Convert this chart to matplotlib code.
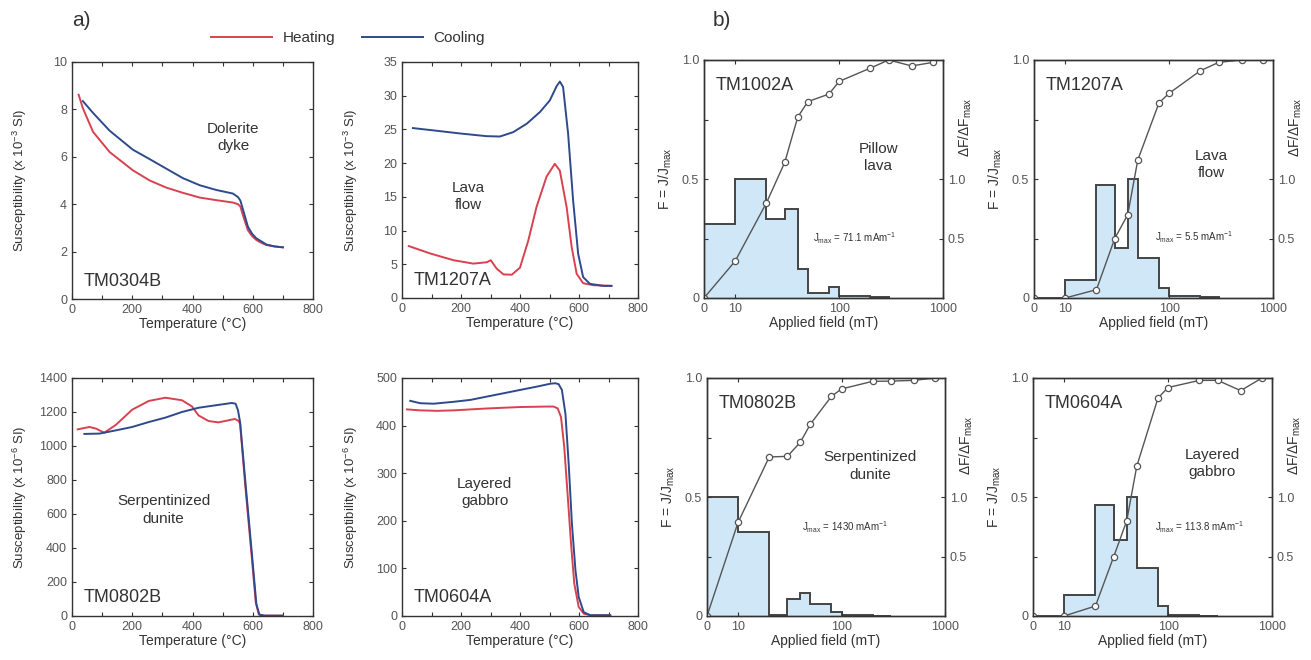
import matplotlib.pyplot as plt
from matplotlib.lines import Line2D

plt.rcParams['font.family'] = ['Liberation Sans', 'DejaVu Sans']
plt.rcParams['mathtext.default'] = 'regular'

# ---- a) thermomagnetic curves (temperature in C, susceptibility) ----
t0304_heat = [22, 36, 70, 125, 202, 258, 313, 368, 424, 479, 534, 551, 559, 567, 576, 584, 598, 612, 630, 645, 670, 700]
k0304_heat = [8.62, 8.05, 7.05, 6.2, 5.43, 5.0, 4.7, 4.48, 4.28, 4.17, 4.07, 4.0, 3.9, 3.55, 3.2, 2.9, 2.65, 2.49, 2.36, 2.28, 2.22, 2.18]
t0304_cool = [36, 70, 125, 202, 258, 313, 368, 424, 479, 534, 551, 559, 567, 576, 584, 598, 612, 630, 645, 672, 700]
k0304_cool = [8.35, 7.85, 7.1, 6.3, 5.9, 5.5, 5.1, 4.8, 4.6, 4.45, 4.3, 4.15, 3.8, 3.4, 3.05, 2.75, 2.56, 2.42, 2.3, 2.22, 2.18]

t1207_heat = [23, 96, 175, 242, 287, 301, 321, 344, 372, 400, 428, 456, 490, 518, 535, 558, 575, 592, 614, 648, 710]
k1207_heat = [7.7, 6.6, 5.6, 5.1, 5.3, 5.6, 4.35, 3.5, 3.45, 4.5, 8.5, 13.5, 18.0, 19.9, 18.9, 13.5, 7.6, 3.6, 2.2, 1.9, 1.8]
t1207_cool = [37, 118, 197, 287, 332, 377, 423, 468, 501, 524, 535, 546, 563, 580, 597, 614, 637, 682, 710]
k1207_cool = [25.2, 24.8, 24.4, 24.0, 23.95, 24.6, 25.85, 27.6, 29.3, 31.4, 32.1, 31.3, 24.4, 14.5, 6.6, 3.1, 2.1, 1.8, 1.8]

t0802_heat = [19, 58, 80, 107, 146, 200, 255, 310, 365, 398, 420, 453, 486, 519, 541, 553, 558, 575, 595, 610, 620, 635, 700]
k0802_heat = [1098, 1112, 1102, 1078, 1125, 1214, 1265, 1284, 1269, 1233, 1180, 1147, 1139, 1151, 1159, 1147, 1130, 770, 380, 80, 10, 2, 2]
t0802_cool = [41, 91, 146, 200, 255, 310, 365, 420, 475, 530, 543, 551, 558, 577, 597, 612, 622, 640, 700]
k0802_cool = [1071, 1073, 1092, 1112, 1141, 1167, 1200, 1225, 1239, 1253, 1249, 1210, 1140, 760, 370, 70, 8, 2, 2]

t0604_heat = [17, 62, 119, 175, 288, 401, 492, 514, 528, 539, 550, 562, 573, 584, 599, 616, 639, 706]
k0604_heat = [434, 432, 431, 432, 436, 439, 440, 440, 436, 418, 355, 250, 152, 68, 19, 5, 1.5, 1.5]
t0604_cool = [28, 62, 107, 175, 232, 288, 345, 401, 458, 503, 520, 531, 542, 554, 565, 576, 588, 599, 616, 639, 706]
k0604_cool = [452, 447, 446, 450, 454, 461, 468, 475, 482, 488, 489, 487, 475, 425, 320, 194, 96, 40, 8, 1.5, 1.5]

# ---- b) IRM acquisition (applied field in mT) ----
field = [0, 10, 20, 30, 40, 50, 80, 100, 200, 300, 500, 800]
bin_edges = [0, 10, 20, 30, 40, 50, 80, 100, 200, 300]

f1002 = [0, 0.155, 0.40, 0.57, 0.76, 0.825, 0.857, 0.91, 0.966, 1.0, 0.975, 0.99]
d1002 = [0.62, 1.0, 0.66, 0.75, 0.24, 0.04, 0.09, 0.015, 0.006]
f1207 = [0, 0, 0.035, 0.25, 0.35, 0.58, 0.82, 0.86, 0.955, 0.99, 1.0, 1.0]
d1207 = [0, 0.15, 0.95, 0.42, 1.0, 0.34, 0.08, 0.02, 0.006]
f0802 = [0, 0.393, 0.668, 0.671, 0.73, 0.806, 0.923, 0.954, 0.986, 0.987, 0.99, 1.0]
d0802 = [1.0, 0.71, 0.01, 0.14, 0.19, 0.10, 0.03, 0.006, 0.0]
f0604 = [0, 0, 0.042, 0.25, 0.40, 0.63, 0.916, 0.96, 0.99, 0.99, 0.947, 1.0]
d0604 = [0, 0.18, 0.93, 0.64, 1.0, 0.40, 0.08, 0.01, 0.0]

HEAT = '#d8424f'
COOL = '#2e4a8c'
TXT = '#333333'
TICK = '#555555'
W, H = 1311, 660

fig = plt.figure(figsize=(W / 100, H / 100), dpi=100)


def box(l, t, r, b):
    return [l / W, 1 - b / H, (r - l) / W, (b - t) / H]


def style(ax):
    for s in ax.spines.values():
        s.set_color('#333333')
        s.set_linewidth(1)
    ax.tick_params(direction='in', colors='#333333', labelcolor=TICK, labelsize=9, length=3)


def thermo_panel(rect, th, kh, tc, kc, ymax, ystep, unit, name, rock, rock_xy):
    ax = fig.add_axes(box(*rect))
    ax.plot(th, kh, color=HEAT, lw=1.4)
    ax.plot(tc, kc, color=COOL, lw=1.4)
    ax.set_xlim(0, 800)
    ax.set_ylim(0, ymax)
    ax.set_xticks(range(0, 801, 100))
    ax.set_xticklabels([str(v) if v % 200 == 0 else '' for v in range(0, 801, 100)])
    ax.set_yticks(range(0, ymax + 1, ystep))
    style(ax)
    ax.tick_params(top=True, right=True)
    ax.set_xlabel('Temperature (\u00b0C)', fontsize=10, color=TXT, labelpad=1)
    ax.set_ylabel('Susceptibility (x 10$^{%s}$ SI)' % unit, fontsize=9.5, color=TXT)
    ax.yaxis.set_label_coords(-0.18, 0.5)
    ax.text(0.05, 0.04, name, transform=ax.transAxes, fontsize=13, color=TXT, ha='left', va='bottom')
    ax.text(rock_xy[0], rock_xy[1], rock, transform=ax.transAxes, fontsize=11, color=TXT,
            ha='center', va='center', linespacing=1.3)
    return ax


def irm_panel(rect, f, d, name, rock, rock_xy, jmax, j_xy):
    ax = fig.add_axes(box(*rect))
    ax2 = ax.twinx()
    edges = bin_edges[:len(d) + 1]
    ax2.stairs(d, edges, fill=True, color='#cfe7f7', lw=0)
    ax2.stairs(d, edges, baseline=0, color='#444444', lw=1.4)
    ax2.set_ylim(0, 2)
    ax2.set_yticks([0.5, 1.0])
    ax2.set_yticklabels(['0.5', '1.0'])
    ax2.set_ylabel(r'$\Delta$F/$\Delta$F$_{max}$', fontsize=10, color=TXT)
    ax2.yaxis.set_label_coords(1.055, 0.72)

    ax.set_zorder(ax2.get_zorder() + 1)
    ax.patch.set_visible(False)
    ax.plot(field, f, color='#555555', lw=1, marker='o', ms=4.5, mfc='white', mec='#555555', mew=0.9)
    ax.set_xscale('symlog', linthresh=10, linscale=0.27)
    ax.set_xlim(0, 1000)
    ax.set_ylim(0, 1)
    ax.set_xticks([0, 10, 100, 1000])
    ax.set_xticklabels(['0', '10', '100', '1000'])
    ax.minorticks_off()
    ax.set_yticks([0, 0.25, 0.5, 0.75, 1.0])
    ax.set_yticklabels(['0', '', '0.5', '', '1.0'])
    style(ax)
    style(ax2)
    ax.tick_params(top=True, right=False)
    ax.set_xlabel('Applied field (mT)', fontsize=10, color=TXT, labelpad=1)
    ax.set_ylabel('F = J/J$_{max}$', fontsize=10, color=TXT)
    ax.yaxis.set_label_coords(-0.125, 0.5)
    ax.text(0.05, 0.93, name, transform=ax.transAxes, fontsize=13, color=TXT, ha='left', va='top')
    ax.text(rock_xy[0], rock_xy[1], rock, transform=ax.transAxes, fontsize=11, color=TXT,
            ha='center', va='center', linespacing=1.3)
    ax.text(j_xy[0], j_xy[1], 'J$_{max}$ = %s mAm$^{-1}$' % jmax, transform=ax.transAxes,
            fontsize=7, color=TXT, ha='left', va='center')
    return ax


thermo_panel((72, 62, 313, 299), t0304_heat, k0304_heat, t0304_cool, k0304_cool, 10, 2, '-3',
             'TM0304B', 'Dolerite\ndyke', (0.67, 0.68))
thermo_panel((402, 62, 638, 298), t1207_heat, k1207_heat, t1207_cool, k1207_cool, 35, 5, '-3',
             'TM1207A', 'Lava\nflow', (0.28, 0.43))
thermo_panel((72, 378, 313, 616), t0802_heat, k0802_heat, t0802_cool, k0802_cool, 1400, 200, '-6',
             'TM0802B', 'Serpentinized\ndunite', (0.38, 0.445))
thermo_panel((402, 378, 638, 616), t0604_heat, k0604_heat, t0604_cool, k0604_cool, 500, 100, '-6',
             'TM0604A', 'Layered\ngabbro', (0.35, 0.52))

irm_panel((704, 60, 943, 298), f1002, d1002, 'TM1002A', 'Pillow\nlava', (0.73, 0.59), '71.1', (0.456, 0.25))
irm_panel((1034, 60, 1273, 298), f1207, d1207, 'TM1207A', 'Lava\nflow', (0.74, 0.56), '5.5', (0.506, 0.255))
irm_panel((707, 378, 945, 616), f0802, d0802, 'TM0802B', 'Serpentinized\ndunite', (0.685, 0.63), '1430', (0.40, 0.375))
irm_panel((1033, 378, 1272, 616), f0604, d0604, 'TM0604A', 'Layered\ngabbro', (0.75, 0.64), '113.8', (0.51, 0.375))

fig.text(72 / W, 1 - 20 / H, 'a)', fontsize=15, color=TXT, va='center', ha='left')
fig.text(713 / W, 1 - 20 / H, 'b)', fontsize=15, color=TXT, va='center', ha='left')

handles = [Line2D([], [], color=HEAT, lw=1.4), Line2D([], [], color=COOL, lw=1.4)]
fig.legend(handles, ['Heating', 'Cooling'], loc='center', bbox_to_anchor=(348 / W, 1 - 38 / H),
           ncol=2, frameon=False, fontsize=11, handlelength=4.0, handletextpad=0.7,
           columnspacing=1.7, labelcolor=TXT)

fig.savefig('out.png', dpi=100)
